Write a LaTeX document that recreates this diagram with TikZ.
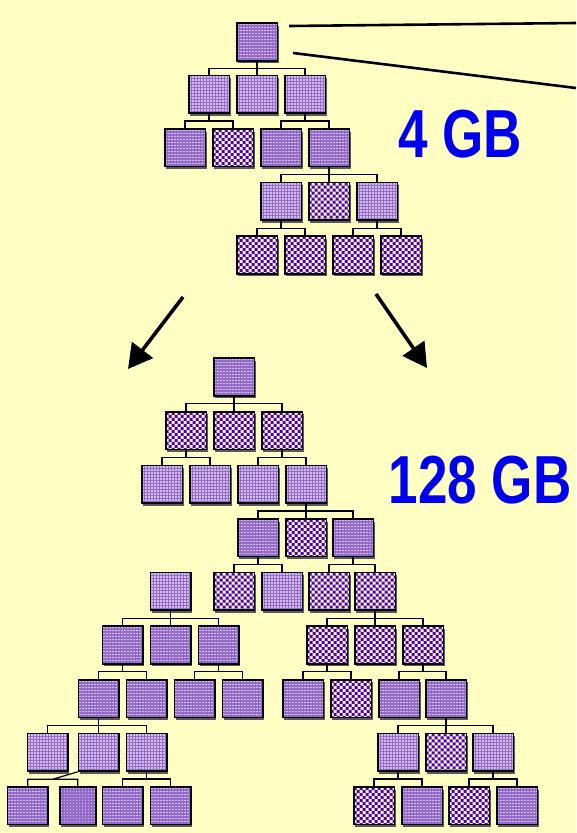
\documentclass[tikz,border=0pt]{standalone}
\usepackage{fontspec}
\usepackage{tikz}
\usetikzlibrary{positioning, calc, arrows.meta, shadows}

\newfontfamily\gbfont[FakeStretch=0.78]{Liberation Sans}

\definecolor{paper}{RGB}{255,255,196}
\definecolor{dotbase}{RGB}{148,106,204}
\definecolor{dotspeck}{RGB}{212,192,240}
\definecolor{chkdark}{RGB}{82,0,150}
\definecolor{gbblue}{RGB}{0,0,240}

\begin{document}
\begin{tikzpicture}[
    x=1pt, y=-1pt,
    node distance=14.4pt,
    cell/.style={rectangle, draw=black, line width=1.6pt, minimum width=40.6pt, minimum height=37.6pt, inner sep=0pt,
      drop shadow={shadow xshift=1.2pt, shadow yshift=-2.6pt, opacity=1, fill=black!65}},
    % speckled cell: light dots on a 3pt grid
    dotcell/.style={cell, fill=dotbase, path picture={
        \coordinate (nw) at (path picture bounding box.north west);
        \foreach \i in {0,3,...,39} \foreach \j in {0,3,...,36}
          \fill[dotspeck] ($(nw)+(\i+0.75,\j+0.75)$) rectangle ++(1.5,1.5);}},
    % checker cell: 3pt squares
    chkcell/.style={cell, fill=white, path picture={
        \coordinate (nw) at (path picture bounding box.north west);
        \foreach \i in {0,6,...,36} \foreach \j in {0,6,...,36}
          \fill[chkdark] ($(nw)+(\i,\j)$) rectangle ++(3,3) ($(nw)+(\i+3,\j+3)$) rectangle ++(3,3);}},
    link/.style={draw, line width=1.2pt},
    fork/.style={link, to path={(\tikztostart) |- ($(\tikztostart)!.5!(\tikztotarget)$) -| (\tikztotarget)}},
    zoomline/.style={draw, line width=2.6pt},
    bigarrow/.style={draw, line width=3.6pt, -{Triangle[length=24pt, width=26pt]}},
    gblabel/.style={text=gbblue, font=\gbfont\bfseries\fontsize{68}{68}\selectfont, inner sep=0pt}
  ]
  \path[use as bounding box, fill=paper] (0,0) rectangle (576,833);

  % small tree
  \node[dotcell] (sm0) at (257,42) {};
  \node[dotcell, below=13pt of sm0] (sm2) {};
  \node[dotcell, below=13pt of sm0, xshift=-48pt] (sm1) {};
  \node[dotcell, below=13pt of sm0, xshift=48pt] (sm3) {};
  \node[dotcell, below=of sm1, xshift=-24pt] (sm4) {};
  \node[chkcell, below=of sm1, xshift=24pt] (sm5) {};
  \node[dotcell, below=of sm3, xshift=-24pt] (sm6) {};
  \node[dotcell, below=of sm3, xshift=24pt] (sm7) {};
  \node[chkcell, below=of sm7] (sm9) {};
  \node[dotcell, below=of sm7, xshift=-48pt] (sm8) {};
  \node[dotcell, below=of sm7, xshift=48pt] (sm10) {};
  \node[chkcell, below=of sm8, xshift=-24pt] (sm11) {};
  \node[chkcell, below=of sm8, xshift=24pt] (sm12) {};
  \node[chkcell, below=of sm10, xshift=-24pt] (sm13) {};
  \node[chkcell, below=of sm10, xshift=24pt] (sm14) {};

  \path (sm0.south) edge[fork] (sm1.north) edge[fork] (sm2.north) edge[fork] (sm3.north);
  \path (sm1.south) edge[fork] (sm4.north) edge[fork] (sm5.north);
  \path (sm3.south) edge[fork] (sm6.north) edge[fork] (sm7.north);
  \path (sm7.south) edge[fork] (sm8.north) edge[fork] (sm9.north) edge[fork] (sm10.north);
  \path (sm8.south) edge[fork] (sm11.north) edge[fork] (sm12.north);
  \path (sm10.south) edge[fork] (sm13.north) edge[fork] (sm14.north);

  \node[gblabel] (small) at (460,134) {4 GB};

  % zoom lines off the root
  \coordinate (zoomA) at (576,23);
  \coordinate (zoomB) at (576,88);
  \path[zoomline] ($(sm0.east)+(11,-16)$) -- (zoomA);
  \path[zoomline] ($(sm0.east)+(15,11)$) -- (zoomB);

  % growth arrows
  \coordinate (growL) at (183,297);
  \coordinate (growLend) at (128,369);
  \coordinate (growR) at (376,294);
  \coordinate (growRend) at (427,368);
  \path[bigarrow] (growL) -- (growLend);
  \path[bigarrow] (growR) -- (growRend);

  % large tree
  \node[dotcell] (lg0) at (234,377) {};
  \node[chkcell, below=of lg0] (lg2) {};
  \node[chkcell, below=of lg0, xshift=-48pt] (lg1) {};
  \node[chkcell, below=of lg0, xshift=48pt] (lg3) {};
  \node[dotcell, below=of lg1, xshift=-24pt] (lg4) {};
  \node[dotcell, below=of lg1, xshift=24pt] (lg5) {};
  \node[dotcell, below=of lg3, xshift=-24pt] (lg6) {};
  \node[dotcell, below=of lg3, xshift=24pt] (lg7) {};
  \node[chkcell, below=of lg7] (lg9) {};
  \node[dotcell, below=of lg7, xshift=-48pt] (lg8) {};
  \node[dotcell, below=of lg7, xshift=47pt] (lg10) {};
  \node[chkcell, below=of lg8, xshift=-24pt] (lg12) {};
  \node[dotcell, below=of lg8, xshift=24pt] (lg13) {};
  \node[chkcell, below=of lg10, xshift=-24pt] (lg14) {};
  \node[chkcell, below=of lg10, xshift=22pt] (lg15) {};

  % left branch
  \node[dotcell, left=21pt of lg12] (lg11) {};
  \node[dotcell, below=of lg11] (lg17) {};
  \node[dotcell, below=of lg11, xshift=-48pt] (lg16) {};
  \node[dotcell, below=of lg11, xshift=48pt] (lg18) {};
  \node[dotcell, below=of lg16, xshift=-24pt] (lg19) {};
  \node[dotcell, below=of lg16, xshift=24pt] (lg20) {};
  \node[dotcell, below=of lg18, xshift=-24pt] (lg21) {};
  \node[dotcell, below=of lg18, xshift=24pt] (lg22) {};
  \node[dotcell, below=of lg19] (lg24) {};
  \node[dotcell, below=of lg19, xshift=-51pt] (lg23) {};
  \node[dotcell, below=of lg19, xshift=48pt] (lg25) {};
  \node[dotcell, below=of lg23, xshift=-20pt] (lg26) {};
  \node[dotcell, below=of lg23, xshift=30pt, minimum width=36pt] (lg27) {};
  \node[dotcell, below=of lg25, xshift=-24pt] (lg28) {};
  \node[dotcell, below=of lg25, xshift=24pt] (lg29) {};

  % right branch
  \node[chkcell, below=of lg15] (lg31) {};
  \node[chkcell, below=of lg15, xshift=-48pt] (lg30) {};
  \node[chkcell, below=of lg15, xshift=48pt] (lg32) {};
  \node[dotcell, below=of lg30, xshift=-24pt] (lg33) {};
  \node[chkcell, below=of lg30, xshift=24pt] (lg34) {};
  \node[dotcell, below=of lg32, xshift=-24pt] (lg35) {};
  \node[dotcell, below=of lg32, xshift=23pt] (lg36) {};
  \node[chkcell, below=of lg36] (lg38) {};
  \node[dotcell, below=of lg36, xshift=-48pt] (lg37) {};
  \node[dotcell, below=of lg36, xshift=47pt] (lg39) {};
  \node[chkcell, below=of lg37, xshift=-24pt] (lg40) {};
  \node[dotcell, below=of lg37, xshift=24pt] (lg41) {};
  \node[chkcell, below=of lg39, xshift=-24pt] (lg42) {};
  \node[dotcell, below=of lg39, xshift=24pt] (lg43) {};

  \path (lg0.south) edge[fork] (lg1.north) edge[fork] (lg2.north) edge[fork] (lg3.north);
  \path (lg1.south) edge[fork] (lg4.north) edge[fork] (lg5.north);
  \path (lg3.south) edge[fork] (lg6.north) edge[fork] (lg7.north);
  \path (lg7.south) edge[fork] (lg8.north) edge[fork] (lg9.north) edge[fork] (lg10.north);
  \path (lg8.south) edge[fork] (lg12.north) edge[fork] (lg13.north);
  \path (lg10.south) edge[fork] (lg14.north) edge[fork] (lg15.north);
  \path (lg11.south) edge[fork] (lg16.north) edge[fork] (lg17.north) edge[fork] (lg18.north);
  \path (lg16.south) edge[fork] (lg19.north) edge[fork] (lg20.north);
  \path (lg18.south) edge[fork] (lg21.north) edge[fork] (lg22.north);
  \path (lg19.south) edge[fork] (lg23.north) edge[fork] (lg24.north) edge[fork] (lg25.north);
  \path (lg25.south) edge[fork] (lg28.north) edge[fork] (lg29.north);
  \coordinate (lgkink) at ($(lg26.north)!.5!(lg27.north)+(0,-7)$);
  \path[link] (lg24.south west) -- (lgkink) -| (lg26.north) (lgkink) -| (lg27.north);
  \path (lg15.south) edge[fork] (lg30.north) edge[fork] (lg31.north) edge[fork] (lg32.north);
  \path (lg30.south) edge[fork] (lg33.north) edge[fork] (lg34.north);
  \path (lg32.south) edge[fork] (lg35.north) edge[fork] (lg36.north);
  \path (lg36.south) edge[fork] (lg37.north) edge[fork] (lg38.north) edge[fork] (lg39.north);
  \path (lg37.south) edge[fork] (lg40.north) edge[fork] (lg41.north);
  \path (lg39.south) edge[fork] (lg42.north) edge[fork] (lg43.north);

  \node[gblabel] (big) at (480,480) {128 GB};
\end{tikzpicture}
\end{document}
